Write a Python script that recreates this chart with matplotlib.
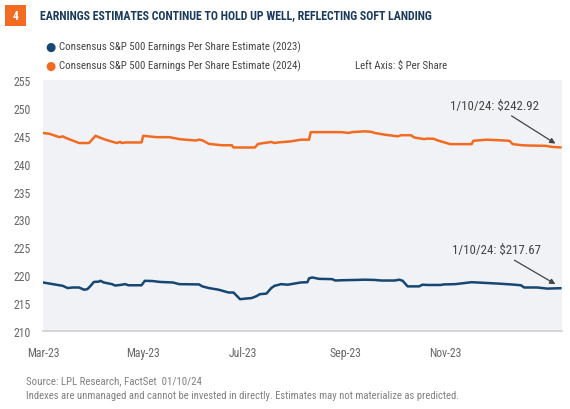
import matplotlib
matplotlib.use("Agg")
import matplotlib.pyplot as plt
import pandas as pd
from matplotlib.patches import Rectangle
from matplotlib import font_manager as fm

names = {f.name for f in fm.fontManager.ttflist}
cands = [n for n in ["Roboto Condensed", "Liberation Sans Narrow", "DejaVu Sans Condensed", "Open Sans Condensed"] if n in names]
plt.rcParams['font.family'] = cands + ['Roboto', 'DejaVu Sans']

# ---- data ----
dates_2024 = ["2023-03-01","2023-03-05","2023-03-11","2023-03-13","2023-03-15","2023-03-19","2023-03-23",
              "2023-03-29","2023-04-02","2023-04-04","2023-04-08","2023-04-15","2023-04-17","2023-04-18",
              "2023-04-20","2023-04-30","2023-05-01","2023-05-09","2023-05-17","2023-05-23","2023-06-02",
              "2023-06-04","2023-06-06","2023-06-10","2023-06-18","2023-06-24","2023-06-25","2023-07-08",
              "2023-07-10","2023-07-16","2023-07-18","2023-07-20","2023-07-22","2023-07-30","2023-08-05",
              "2023-08-10","2023-08-11","2023-08-30","2023-09-03","2023-09-05","2023-09-13","2023-09-17",
              "2023-09-19","2023-09-25","2023-10-03","2023-10-05","2023-10-11","2023-10-13","2023-10-19",
              "2023-10-21","2023-10-25","2023-10-27","2023-11-04","2023-11-17","2023-11-18","2023-11-26",
              "2023-12-04","2023-12-10","2023-12-12","2023-12-18","2023-12-22","2024-01-01","2024-01-05",
              "2024-01-10"]
eps_2024 = [245.5,245.35,244.75,244.9,244.6,244.15,243.7,
            243.7,245.0,244.75,244.3,243.7,243.9,243.7,
            243.8,243.8,245.0,244.75,244.75,244.4,244.15,
            244.3,244.2,243.55,243.3,243.3,242.9,242.9,
            243.55,243.8,243.9,243.7,243.8,244.0,244.3,
            244.3,245.65,245.65,245.5,245.65,245.8,245.7,
            245.5,245.2,244.9,245.1,245.1,244.7,244.4,
            244.5,244.45,244.2,243.5,243.5,244.1,244.3,
            244.2,244.1,243.5,243.3,243.25,243.2,243.0,
            242.92]

dates_2023 = ["2023-03-01","2023-03-09","2023-03-13","2023-03-16","2023-03-19","2023-03-23","2023-03-26",
              "2023-03-28","2023-03-30","2023-04-01","2023-04-04","2023-04-05","2023-04-07","2023-04-12",
              "2023-04-14","2023-04-17","2023-04-20","2023-04-22","2023-04-30","2023-05-02","2023-05-07",
              "2023-05-11","2023-05-19","2023-05-23","2023-06-04","2023-06-06","2023-06-10","2023-06-16",
              "2023-06-22","2023-06-25","2023-06-27","2023-06-29","2023-07-02","2023-07-06","2023-07-09",
              "2023-07-11","2023-07-15","2023-07-18","2023-07-20","2023-07-24","2023-07-28","2023-08-01",
              "2023-08-05","2023-08-09","2023-08-10","2023-08-12","2023-08-16","2023-08-24","2023-08-26",
              "2023-08-30","2023-09-07","2023-09-13","2023-09-19","2023-09-23","2023-10-01","2023-10-04",
              "2023-10-06","2023-10-09","2023-10-16","2023-10-18","2023-10-21","2023-10-29","2023-10-31",
              "2023-11-07","2023-11-17","2023-12-03","2023-12-11","2023-12-17","2023-12-19","2023-12-27",
              "2024-01-02","2024-01-10"]
eps_2023 = [218.7,218.3,218.1,217.7,217.8,217.8,217.4,
            217.5,218.1,218.8,218.85,219.0,218.7,218.4,
            218.15,218.25,218.4,218.2,218.2,219.0,218.95,
            218.8,218.7,218.4,218.35,218.0,217.7,217.4,
            216.9,216.9,216.3,215.7,215.8,215.9,216.25,
            216.6,216.7,217.7,218.1,218.4,218.3,218.5,
            218.7,218.75,219.45,219.6,219.35,219.3,219.05,
            219.1,219.15,219.2,219.15,219.05,219.05,219.2,
            219.0,218.0,218.0,218.3,218.25,218.25,218.35,
            218.4,218.75,218.5,218.35,218.2,217.8,217.8,
            217.6,217.67]

y_ticks = [210, 215, 220, 225, 230, 235, 240, 245, 250, 255]
x_ticks = ["2023-03-01", "2023-05-01", "2023-07-01", "2023-09-01", "2023-11-01"]
x_tick_labels = ["Mar-23", "May-23", "Jul-23", "Sep-23", "Nov-23"]
label_2023 = "Consensus S&P 500 Earnings Per Share Estimate (2023)"
label_2024 = "Consensus S&P 500 Earnings Per Share Estimate (2024)"

d24 = pd.to_datetime(dates_2024)
d23 = pd.to_datetime(dates_2023)

ORANGE = "#F26B21"
NAVY = "#164773"
TITLE = "#1B3A5E"
GRAY = "#666666"

fig = plt.figure(figsize=(5.7, 4.1), dpi=100)
ax = fig.add_axes([43/570, 1-332/410, (562-43)/570, (332-81)/410])
ax.set_facecolor("#F1F2F5")

ax.plot(d24, eps_2024, color=ORANGE, lw=1.8, solid_joinstyle='round')
ax.plot(d23, eps_2023, color=NAVY, lw=1.8, solid_joinstyle='round')

ax.set_ylim(210, 255)
ax.set_yticks(y_ticks)
ax.set_xlim(pd.Timestamp("2023-03-01"), pd.Timestamp("2024-01-11"))
ax.set_xticks(pd.to_datetime(x_ticks))
ax.set_xticklabels(x_tick_labels)
for s in ["top", "right", "left"]:
    ax.spines[s].set_visible(False)
ax.spines["bottom"].set_color("#D0D0D0")
ax.spines["bottom"].set_linewidth(1.2)
ax.tick_params(axis="both", length=0, labelsize=8.5, colors=GRAY)
ax.tick_params(axis="y", pad=9)
ax.tick_params(axis="x", pad=11)

# annotations
ax.annotate("1/10/24: $242.92", xy=(d24[-1] - pd.Timedelta(days=3), 243.6),
            xytext=(pd.Timestamp("2023-12-28"), 250.5), ha="right", va="center",
            fontsize=9.3, color="#444444",
            arrowprops=dict(arrowstyle="-|>", color="#444444", lw=0.9, mutation_scale=8,
                            shrinkA=2, shrinkB=0))
ax.annotate("1/10/24: $217.67", xy=(d23[-1] - pd.Timedelta(days=3), 218.4),
            xytext=(pd.Timestamp("2023-12-29"), 224.6), ha="right", va="center",
            fontsize=9.3, color="#444444",
            arrowprops=dict(arrowstyle="-|>", color="#444444", lw=0.9, mutation_scale=8,
                            shrinkA=2, shrinkB=0))

# header
fig.patches.append(Rectangle((5/570, 1-27/410), 21/570, 21/410, transform=fig.transFigure,
                             facecolor=ORANGE, edgecolor="none"))
fig.text(15.5/570, 1-16.5/410, "4", color="white", fontsize=8.5, fontweight="bold", ha="center", va="center")
fig.text(40/570, 1-16/410, "EARNINGS ESTIMATES CONTINUE TO HOLD UP WELL, REFLECTING SOFT LANDING",
         color=TITLE, fontsize=8.6, fontweight="bold", ha="left", va="center")

# legend
fig.text(50/570, 1-47/410, "\u25CF", color=NAVY, fontsize=8.5, ha="center", va="center", family="DejaVu Sans")
fig.text(59/570, 1-47/410, label_2023, color="#444444", fontsize=7.8, ha="left", va="center")
fig.text(50/570, 1-66/410, "\u25CF", color=ORANGE, fontsize=8.5, ha="center", va="center", family="DejaVu Sans")
fig.text(59/570, 1-66/410, label_2024, color="#444444", fontsize=7.8, ha="left", va="center")
fig.text(355/570, 1-66/410, "Left Axis: $ Per Share", color="#444444", fontsize=7.8, ha="left", va="center")

# footer
fig.text(26/570, 1-381/410, "Source: LPL Research, FactSet  01/10/24", color="#808080", fontsize=7.8,
         ha="left", va="center")
fig.text(26/570, 1-396/410,
         "Indexes are unmanaged and cannot be invested in directly. Estimates may not materialize as predicted.",
         color="#808080", fontsize=7.7, ha="left", va="center")

fig.savefig("out.png", dpi=100)
